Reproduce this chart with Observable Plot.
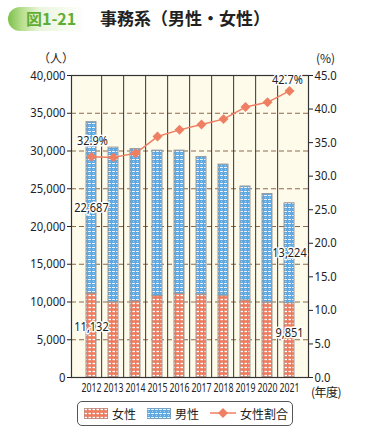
<!DOCTYPE html>
<html><head><meta charset="utf-8">
<script src="https://cdn.jsdelivr.net/npm/d3@7"></script>
<script src="https://cdn.jsdelivr.net/npm/@observablehq/plot@0.6"></script>
<style>
body{margin:0;background:#fff;font-family:"Noto Sans CJK JP",sans-serif;}
#wrap{position:relative;width:380px;height:440px;}
.abs{position:absolute;white-space:nowrap;}
</style></head><body>
<div id="wrap">
  <div class="abs" style="left:8px;top:7px;width:78px;height:24px;border-radius:12px 0 0 12px;background:linear-gradient(90deg,#7cc04a 0%,#b8df8e 18%,#eaf5dc 40%,#ffffff 100%);"></div>
  <div class="abs" style="left:26px;top:6px;font-size:16px;font-weight:bold;color:#5fae34;">図1-21</div>
  <div class="abs" style="left:100px;top:5px;font-size:17px;font-weight:bold;color:#222;">事務系（男性・女性）</div>
  <div class="abs" style="left:38px;top:49px;font-size:12px;color:#222;">（人）</div>
  <div class="abs" style="left:316px;top:49px;font-size:12px;color:#222;">(%)</div>
  <div id="chart" class="abs" style="left:0;top:38px;"></div>
  <div class="abs" style="left:77px;top:401px;width:214px;height:23px;border:1.3px solid #555;border-radius:5px;font-size:12px;color:#222;">
    <svg class="abs" style="left:6px;top:6px;" width="24" height="11"><rect width="24" height="11" fill="url(#femaleL)" stroke="#999" stroke-width="1"/></svg>
    <div class="abs" style="left:34px;top:3px;">女性</div>
    <svg class="abs" style="left:69px;top:6px;" width="24" height="11"><rect width="24" height="11" fill="url(#maleL)" stroke="#999" stroke-width="1"/></svg>
    <div class="abs" style="left:97px;top:3px;">男性</div>
    <svg class="abs" style="left:132px;top:4px;" width="26" height="14"><line x1="0" y1="7" x2="26" y2="7" stroke="#ef7f62" stroke-width="1.5"/><path d="M13,2L18,7L13,12L8,7Z" fill="#ef7f62"/></svg>
    <div class="abs" style="left:162px;top:3px;">女性割合</div>
  </div>
</div>
<svg width="0" height="0" style="position:absolute">
  <defs>
    <pattern id="femaleL" width="4" height="4" patternUnits="userSpaceOnUse">
      <rect width="4" height="4" fill="#ef7a5c"/><rect x="0.5" y="0.8" width="2.5" height="1.4" fill="#fff"/>
    </pattern>
    <pattern id="maleL" width="4" height="4" patternUnits="userSpaceOnUse">
      <rect width="4" height="4" fill="#5ea9e2"/><rect x="0" y="1" width="3" height="1" fill="#e8f4ff"/><rect x="1" y="3" width="1" height="1" fill="#a8d2f2"/>
    </pattern>
  </defs>
</svg>
<script>
const years = ["2012","2013","2014","2015","2016","2017","2018","2019","2020","2021"];
const female = [11132, 9980, 10100, 10800, 11080, 11000, 10850, 10200, 9950, 9851];
const male = [22687, 20470, 20150, 19250, 18970, 18200, 17350, 15100, 14350, 13224];
const ratio = [32.9, 32.8, 33.4, 35.9, 36.9, 37.7, 38.5, 40.3, 41.0, 42.7];
const leftTicks = [0,5000,10000,15000,20000,25000,30000,35000,40000];
const rightTicks = [0,5,10,15,20,25,30,35,40,45];

const K = 40000/45;
const rows = [];
years.forEach((y,i)=>{
  rows.push({year:y, sex:"女性", value:female[i], order:0});
  rows.push({year:y, sex:"男性", value:male[i], order:1});
});
const line = years.map((y,i)=>({year:y, r:ratio[i], ry:ratio[i]*K}));
const fmt = d3.format(",");
const femLabels = [0,9].map(i=>({year:years[i], y:female[i]*0.6, t:fmt(female[i])}));
const maleLabels = [0,9].map(i=>({year:years[i], y:female[i]+male[i]/2, t:fmt(male[i])}));
const numFont = "'Noto Sans',sans-serif";

const chart = Plot.plot({
  width:380, height:362,
  marginLeft:71, marginRight:72, marginTop:37, marginBottom:23,
  style:{fontFamily:numFont, fontSize:"12.5px", color:"#222", background:"transparent"},
  x:{domain:years, padding:0.56, align:0.5},
  y:{domain:[0,40000]},
  marks:[
    Plot.frame({fill:"#fffbeb", stroke:"none"}),
    Plot.gridY(leftTicks.slice(1,-1), {stroke:"#8a6a4a", strokeOpacity:1, strokeDasharray:"5,3", strokeWidth:1}),
    Plot.barY(rows, {x:"year", y:"value", order:"order",
      fill:d=>d.sex==="女性"?"url(#female)":"url(#male)", stroke:"#999", strokeWidth:1}),
    Plot.frame({stroke:"#333", strokeWidth:1.2}),
    Plot.axisY({ticks:leftTicks, tickFormat:fmt, tickSize:4, tickPadding:2, label:null, fontSize:12.5}),
    Plot.axisY({anchor:"right", ticks:rightTicks.map(p=>p*K), tickFormat:d=>(d/K).toFixed(1), tickSize:4, tickPadding:2, label:null, fontSize:12.5}),
    Plot.axisX({tickSize:0, tickPadding:6, label:null, fontSize:12.5}),
    Plot.tickX(years.slice(1), {x:d=>d, dx:-11.85, y1:0, y2:700, stroke:"#333"}),
    Plot.line(line, {x:"year", y:"ry", stroke:"#ef7f62", strokeWidth:1.5}),
    Plot.dot(line, {x:"year", y:"ry", symbol:"diamond2", r:4.5, fill:"#ef7f62", stroke:"none"}),
    Plot.text(line.slice(0,1), {x:"year", y:"ry", text:d=>d.r.toFixed(1)+"%", dy:-16, dx:1,
      fontSize:12.5, fill:"#222", stroke:"white", strokeWidth:3, className:"vlab"}),
    Plot.text(line.slice(9), {x:"year", y:"ry", text:d=>d.r.toFixed(1)+"%", dy:-11, dx:-2,
      fontSize:12.5, fill:"#222", stroke:"white", strokeWidth:3, className:"vlab"}),
    Plot.text(femLabels, {x:"year", y:"y", text:"t", fontSize:12.5, fill:"#222", stroke:"white", strokeWidth:3, className:"vlab"}),
    Plot.text(maleLabels, {x:"year", y:"y", text:"t", fontSize:12.5, fill:"#222", stroke:"white", strokeWidth:3, className:"vlab"})
  ]
});
const svg = d3.select(chart);
const defs = svg.insert("defs",":first-child");
const pf = defs.append("pattern").attr("id","female").attr("width",4).attr("height",4).attr("patternUnits","userSpaceOnUse");
pf.append("rect").attr("width",4).attr("height",4).attr("fill","#ef7a5c");
pf.append("rect").attr("x",0.5).attr("y",0.8).attr("width",2.5).attr("height",1.4).attr("fill","#fff");
const pm = defs.append("pattern").attr("id","male").attr("width",4).attr("height",4).attr("patternUnits","userSpaceOnUse");
pm.append("rect").attr("width",4).attr("height",4).attr("fill","#5ea9e2");
pm.append("rect").attr("x",0).attr("y",1).attr("width",3).attr("height",1).attr("fill","#e8f4ff");
pm.append("rect").attr("x",1).attr("y",3).attr("width",1).attr("height",1).attr("fill","#a8d2f2");
document.getElementById("chart").appendChild(chart);
// condense numeric text horizontally, like the reference's narrow font
function squeeze(sel, f){
  svg.selectAll(sel).each(function(){
    const t = this.getAttribute("transform") || "";
    this.setAttribute("transform", (t + ` scale(${f},1)`).trim());
  });
}
squeeze('g[aria-label="x-axis tick label"] text', 0.7);
squeeze('g[aria-label="y-axis tick label"] text', 0.9);
squeeze('.vlab text', 0.88);
const yl = document.createElement("div");
yl.className="abs"; yl.textContent="(年度)";
yl.style.cssText="left:311px;top:386px;font-size:12px;line-height:12px;color:#222;letter-spacing:-0.5px;";
document.getElementById("wrap").appendChild(yl);
</script>
</body></html>
